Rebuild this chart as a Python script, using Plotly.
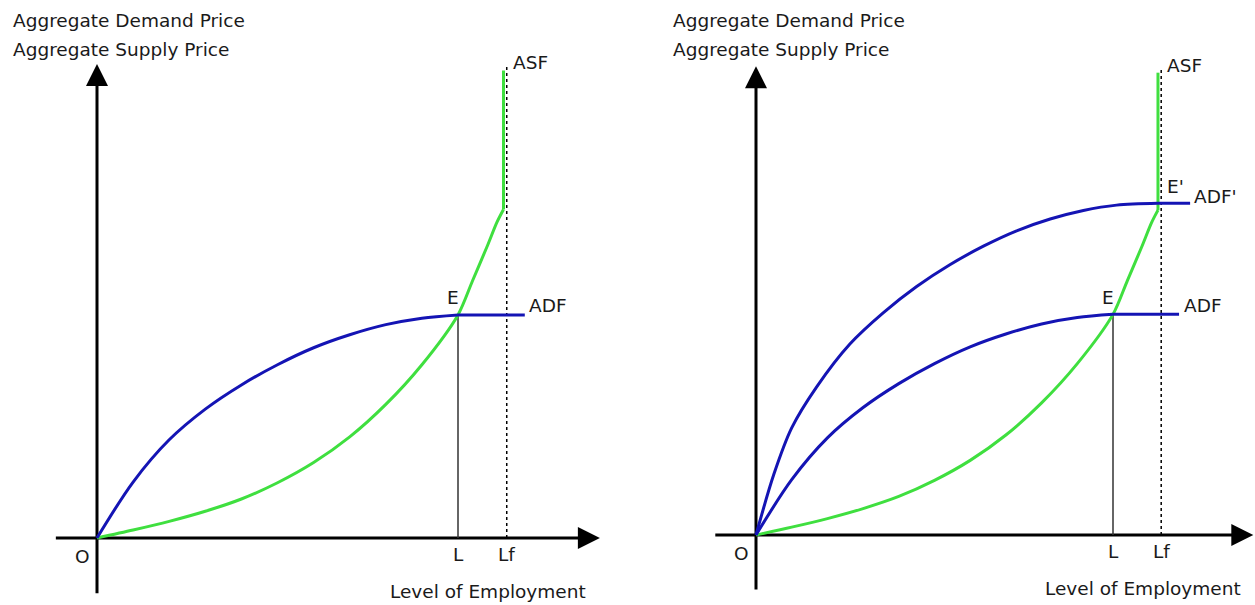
import plotly.graph_objects as go

# ---------------- data (employment units, price units) ----------------
employment = [0, 10, 20, 30, 40, 50, 60, 70, 80, 90, 100]
adf_price = [0, 15.5, 27.2, 35.7, 42.4, 48.0, 52.7, 56.3, 59.1, 60.9, 61.8]
asf_price = [0, 2.2, 4.6, 7.4, 10.8, 15.3, 20.9, 28.0, 37.0, 48.0, 61.8]
asf_upper_emp = [104.0, 108.0, 110.8, 112.6]
asf_upper_price = [71.2, 80.6, 87.5, 91.0]
asf_top = 129.5

adf2_emp = [0, 5.0, 10.0, 17.0, 26.3, 35.7, 45.0, 54.3, 63.7, 73.0, 82.4, 91.7, 101.0, 112.6]
adf2_price = [0, 17.0, 30.0, 41.5, 53.5, 62.3, 69.6, 75.7, 80.9, 85.2, 88.5, 90.9, 92.4, 92.9]

L_level = 100.0
Lf_level = 113.5
adf_end = 118.5
adf2_end = 121.6
lf_top = 130.5

x_label = "Level of Employment"
y_labels = ["Aggregate Demand Price", "Aggregate Supply Price"]

# ---------------- styling ----------------
GREEN = "#3fdf3f"
BLUE = "#1414b4"
FONT = dict(family="DejaVu Sans", size=18.5, color="#1a1a1a")
W, H = 1255, 605

fig = go.Figure()

panels = [
    dict(xa="x", ya="y", shifted=False),
    dict(xa="x2", ya="y2", shifted=True),
]

annotations = []
for p in panels:
    xa, ya = p["xa"], p["ya"]

    def add(**kw):
        fig.add_trace(go.Scatter(xaxis=xa, yaxis=ya, showlegend=False, hoverinfo="skip",
                                 cliponaxis=False, **kw))

    # axes
    add(x=[0, 0], y=[-15.3, 126], mode="lines", line=dict(color="black", width=3))
    add(x=[-11.4, 134], y=[0, 0], mode="lines", line=dict(color="black", width=3))
    add(x=[0], y=[131.3], mode="markers",
        marker=dict(symbol="arrow-up", size=22, color="black", line=dict(width=0)))
    add(x=[139.3], y=[0], mode="markers",
        marker=dict(symbol="arrow-right", size=22, color="black", line=dict(width=0)))

    # Lf dotted line
    add(x=[Lf_level, Lf_level], y=[0, lf_top], mode="lines",
        line=dict(color="black", width=1.5, dash="dot"))
    # L vertical
    add(x=[L_level, L_level], y=[0, adf_price[-1]], mode="lines",
        line=dict(color="#333333", width=1.5))

    # ASF
    add(x=employment + asf_upper_emp, y=asf_price + asf_upper_price, mode="lines",
        line=dict(color=GREEN, width=3, shape="spline", smoothing=0.8))
    add(x=[asf_upper_emp[-1], asf_upper_emp[-1]], y=[asf_upper_price[-1], asf_top],
        mode="lines", line=dict(color=GREEN, width=3))

    # ADF
    add(x=employment, y=adf_price, mode="lines",
        line=dict(color=BLUE, width=3, shape="spline", smoothing=0.9))
    add(x=[employment[-1], adf_end], y=[adf_price[-1], adf_price[-1]], mode="lines",
        line=dict(color=BLUE, width=3))

    if p["shifted"]:
        add(x=adf2_emp, y=adf2_price, mode="lines",
            line=dict(color=BLUE, width=3, shape="spline", smoothing=0.9))
        add(x=[adf2_emp[-1], adf2_end], y=[adf2_price[-1], adf2_price[-1]], mode="lines",
            line=dict(color=BLUE, width=3))

    def ann(text, x, y, xanchor="center", yanchor="middle"):
        annotations.append(dict(text=text, x=x, y=y, xref=xa, yref=ya, showarrow=False,
                                xanchor=xanchor, yanchor=yanchor, font=FONT))

    ann("O", -4.0, -5.2)
    ann("L", L_level, -4.5)
    ann("Lf", Lf_level, -4.5)
    ann(x_label, 108.4, -14.9)
    ann("E", L_level - 1.5, adf_price[-1] + 4.7)
    ann("ADF", 119.2, adf_price[-1] + 2.5, xanchor="left")
    ann("ASF", 114.6, 131.6, xanchor="left")
    if p["shifted"]:
        ann("E'", 117.6, adf2_price[-1] + 4.8)
        ann("ADF'", 122.1, adf2_price[-1] + 1.8, xanchor="left")

for x0 in (11, 671):
    for i, t in enumerate(y_labels):
        annotations.append(dict(text=t, x=x0 / W, y=1 - (20 + 30 * i) / H, xref="paper", yref="paper",
                                showarrow=False, xanchor="left", yanchor="middle", font=FONT))

hidden = dict(visible=False, showgrid=False, zeroline=False, fixedrange=True)
fig.update_layout(
    width=W, height=H, autosize=False,
    margin=dict(l=0, r=0, t=0, b=0, pad=0),
    paper_bgcolor="white", plot_bgcolor="white",
    xaxis=dict(domain=[0, 0.5], range=[(0 - 97) / 3.61, (627.5 - 97) / 3.61], **hidden),
    yaxis=dict(domain=[0, 1], range=[(538 - 605) / 3.61, 538 / 3.61], **hidden),
    xaxis2=dict(domain=[0.5, 1], range=[(627.5 - 756) / 3.57, (1255 - 756) / 3.57], **hidden),
    yaxis2=dict(domain=[0, 1], range=[(535 - 605) / 3.57, 535 / 3.57], **hidden),
    annotations=annotations,
    showlegend=False,
)

fig.write_html("out.html", config={"displayModeBar": False},
               post_script="document.body.style.margin='0';")
